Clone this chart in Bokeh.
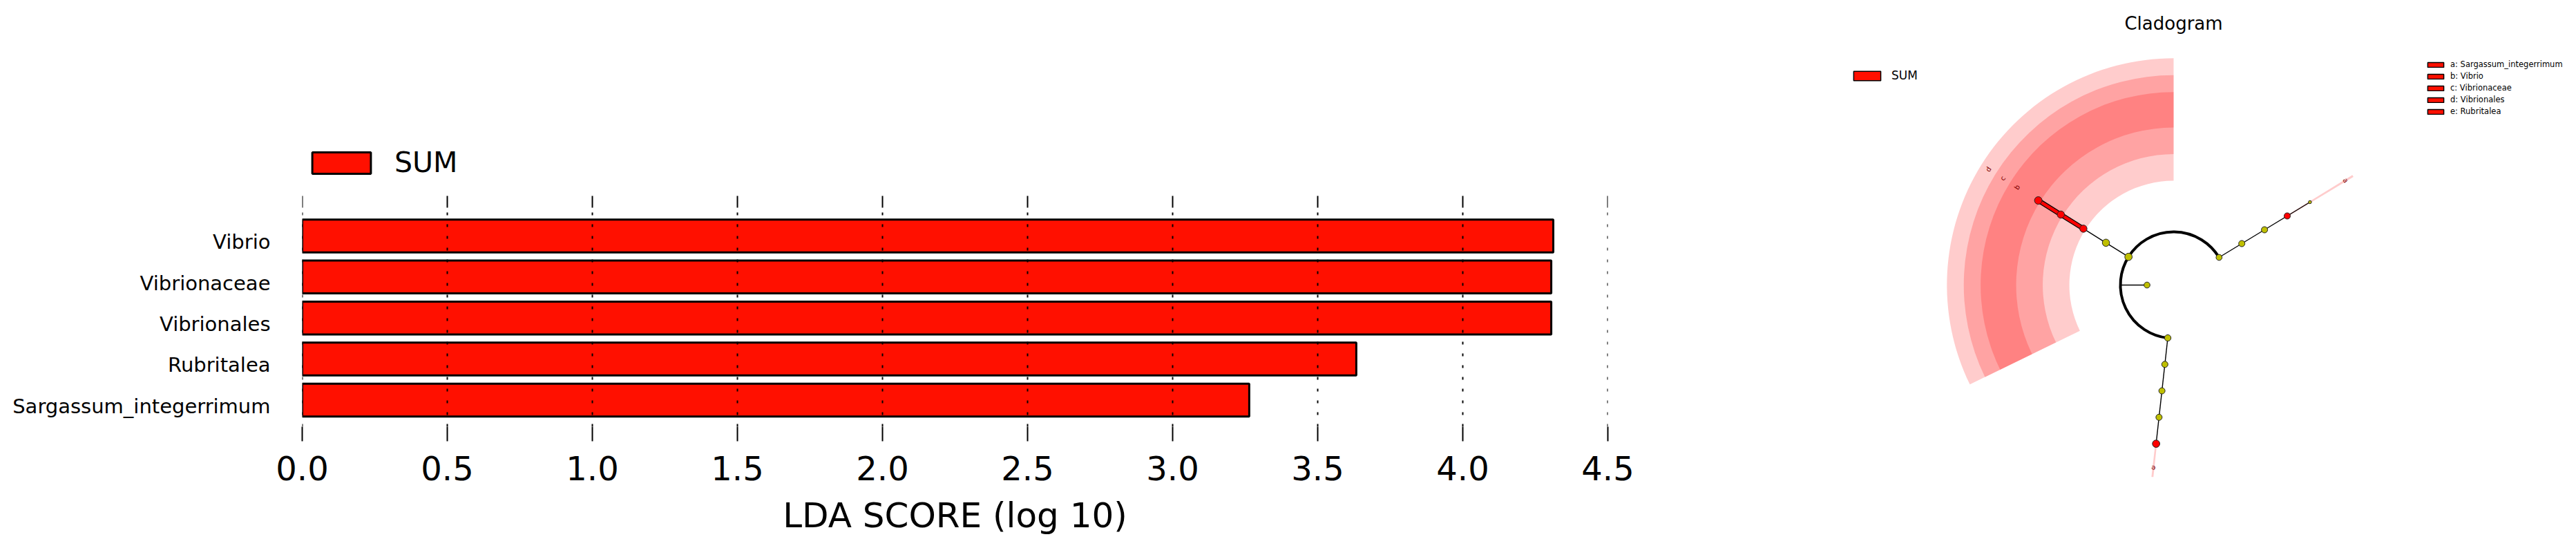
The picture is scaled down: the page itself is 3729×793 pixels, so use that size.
import numpy as np
from bokeh.plotting import figure
from bokeh.models import (Range1d, FixedTicker, LinearAxis, Legend, LegendItem, Label,
                          PrintfTickFormatter)
from bokeh.layouts import row
from bokeh.embed import file_html
from bokeh.resources import INLINE
from bokeh.core.properties import value

FONT = "DejaVu Sans"
RED = "#ff1000"
YELLOW = "#bfbf00"

# ---------------- LDA bar chart data ----------------
features = ["Sargassum_integerrimum", "Rubritalea", "Vibrionales", "Vibrionaceae", "Vibrio"]
lda_scores = [3.264, 3.633, 4.305, 4.305, 4.312]
class_name = "SUM"
lda_ticks = [0.0, 0.5, 1.0, 1.5, 2.0, 2.5, 3.0, 3.5, 4.0, 4.5]

# ---------------- Cladogram data ----------------
# tree nodes: ring level, angle (deg), biomarker flag, node size (abundance)
node_level = [1, 2, 3, 4, 5, 6, 2, 3, 4, 5, 6, 2, 3, 4, 5, 6]
node_angle = [180.0,
              148.0, 148.0, 148.0, 148.0, 148.0,
              31.3, 31.3, 31.3, 31.3, 31.3,
              263.7, 263.7, 263.7, 263.7, 263.7]
node_biomarker = [False,
                  False, False, True, True, True,
                  False, False, False, True, False,
                  False, False, False, False, True]
node_size = [8.7, 10.7, 10.5, 10.5, 10.5, 11.0, 8.7, 9.0, 9.0, 9.0, 4.5, 9.3, 9.0, 9.0, 9.0, 10.7]
edge_parent = [1, 2, 3, 4, 6, 7, 8, 9, 11, 12, 13, 14]
edge_child = [2, 3, 4, 5, 7, 8, 9, 10, 12, 13, 14, 15]
phylum_nodes = [6, 1, 11]  # nodes joined by the level-2 arc

# highlighted clades
hl_letter = ["a", "b", "c", "d", "e"]
hl_name = ["Sargassum_integerrimum", "Vibrio", "Vibrionaceae", "Vibrionales", "Rubritalea"]
hl_level = [5, 6, 5, 4, 6]
hl_angle_from = [31.0, 90.0, 90.0, 90.0, 263.4]
hl_angle_to = [31.6, 206.0, 206.0, 206.0, 264.0]

# ======================= LEFT: LDA bars =======================
BAR_PX = 59.375           # pixels per category
FRAME_H = 617
y0 = 0.351
y1 = y0 + FRAME_H / BAR_PX
grid_top = y0 + 317 / BAR_PX      # upper end of the dashed guide lines
tick_top = grid_top + 17 / BAR_PX  # upper end of the top tick marks

ypos = list(range(1, len(features) + 1))
p1 = figure(frame_width=1890, frame_height=FRAME_H,
            min_border_left=437, min_border_right=273, min_border_top=0, min_border_bottom=176,
            x_range=Range1d(0, 4.5), y_range=Range1d(y0, y1),
            output_backend="svg", toolbar_location=None, x_axis_location=None, y_axis_location=None)
p1.frame_align = False
p1.title.visible = False
p1.outline_line_color = None
p1.grid.visible = False

bars = p1.hbar(y=ypos, right=lda_scores, left=0, height=0.8,
               fill_color=RED, line_color="black", line_width=3)

n = len(lda_ticks)
p1.segment(x0=lda_ticks, x1=lda_ticks, y0=[y0] * n, y1=[grid_top] * n,
           line_color="black", line_width=2, line_dash="4 13")
p1.segment(x0=lda_ticks, x1=lda_ticks, y0=[grid_top] * n, y1=[tick_top] * n,
           line_color="black", line_width=2)

bottom = LinearAxis(ticker=FixedTicker(ticks=lda_ticks), axis_label="LDA SCORE (log 10)",
                    formatter=PrintfTickFormatter(format="%.1f"))
bottom.axis_line_color = None
bottom.major_tick_out = 21
bottom.major_tick_in = 0
bottom.major_tick_line_width = 2
bottom.minor_tick_line_color = None
bottom.major_label_text_font = FONT
bottom.major_label_text_font_size = "48px"
bottom.major_label_text_color = "black"
bottom.major_label_standoff = 21
bottom.axis_label_text_font = FONT
bottom.axis_label_text_font_size = "50px"
bottom.axis_label_text_font_style = "normal"
bottom.axis_label_text_color = "black"
bottom.axis_label_standoff = 19
p1.add_layout(bottom, "below")

label_shift = 0.15
ytick_pos = [y - label_shift for y in ypos]
left = LinearAxis(ticker=FixedTicker(ticks=ytick_pos))
left.major_label_overrides = {t: f for t, f in zip(ytick_pos, features)}
left.axis_line_color = None
left.major_tick_line_color = None
left.minor_tick_line_color = None
left.major_tick_out = 0
left.major_tick_in = 0
left.major_label_standoff = 46
left.major_label_text_font = FONT
left.major_label_text_font_size = "29px"
left.major_label_text_color = "black"
p1.add_layout(left, "left")

leg1 = Legend(items=[LegendItem(label=class_name, renderers=[bars])],
              location=(4, 358), orientation="vertical",
              glyph_width=106, glyph_height=39, label_standoff=24,
              label_text_font=FONT, label_text_font_size="41px", label_text_color="black",
              padding=0, margin=0, spacing=0,
              border_line_color=None, background_fill_alpha=0)
p1.add_layout(leg1, "center")

# ======================= RIGHT: cladogram =======================
PX = 38.5  # pixels per ring level
W2, H2 = 1129, 793
cx_page, cy_page = 546, 412  # root position inside the figure (px)
p2 = figure(width=W2, height=H2, min_border=0,
            x_range=Range1d(-cx_page / PX, (W2 - cx_page) / PX),
            y_range=Range1d(-(H2 - cy_page) / PX, cy_page / PX),
            output_backend="svg", toolbar_location=None)
p2.frame_align = False
p2.title.visible = False
p2.axis.visible = False
p2.grid.visible = False
p2.outline_line_color = None

lev = np.array(node_level, dtype=float)
ang = np.radians(node_angle)
nx = lev * np.cos(ang)
ny = lev * np.sin(ang)

# clade highlight wedges
hl_lev = np.array(hl_level, dtype=float)
inner = hl_lev - 0.08
outer = 11.06 - 0.634 * hl_lev
p2.annular_wedge(x=0, y=0, inner_radius=inner, outer_radius=outer,
                 start_angle=np.radians(hl_angle_from), end_angle=np.radians(hl_angle_to),
                 fill_color="red", fill_alpha=0.2, line_color=None)

# arc joining phyla
a_start = np.radians(node_angle[phylum_nodes[0]])
a_end = np.radians(node_angle[phylum_nodes[2]])
p2.arc(x=0, y=0, radius=2, start_angle=a_start, end_angle=a_end,
       direction="anticlock", line_color="black", line_width=4)

# root link to arc
p2.segment(x0=[nx[0]], y0=[ny[0]], x1=[2 * np.cos(ang[0])], y1=[2 * np.sin(ang[0])],
           line_color="black", line_width=1.5)

# branches
ep = np.array(edge_parent)
ec = np.array(edge_child)
bm = np.array(node_biomarker)
red_edge = bm[ep] & bm[ec]
p2.segment(x0=nx[ep[~red_edge]], y0=ny[ep[~red_edge]], x1=nx[ec[~red_edge]], y1=ny[ec[~red_edge]],
           line_color="black", line_width=1.4)
p2.segment(x0=nx[ep[red_edge]], y0=ny[ep[red_edge]], x1=nx[ec[red_edge]], y1=ny[ec[red_edge]],
           line_color="black", line_width=7)
p2.segment(x0=nx[ep[red_edge]], y0=ny[ep[red_edge]], x1=nx[ec[red_edge]], y1=ny[ec[red_edge]],
           line_color="red", line_width=4.5)

# nodes
colors = ["red" if b else YELLOW for b in node_biomarker]
p2.scatter(x=nx, y=ny, size=node_size, fill_color=colors, line_color="#222222", line_width=1)

# clade letters
hl_mid = np.radians((np.array(hl_angle_from) + np.array(hl_angle_to)) / 2)
lab_r = outer - 0.315
p2.text(x=lab_r * np.cos(hl_mid), y=lab_r * np.sin(hl_mid), text=hl_letter,
        angle=hl_mid - np.pi / 2, text_align="center", text_baseline="middle",
        text_font=value(FONT), text_font_size="10px", text_color="#800000")

# title
p2.add_layout(Label(x=cx_page, y=H2 - 33, x_units="screen", y_units="screen", text="Cladogram",
                    text_align="center", text_baseline="middle", text_font=FONT,
                    text_font_size="26px", text_color="black"))

# hidden patch renderer used only for the legend swatches
patch = p2.quad(left=inner, right=outer, top=outer, bottom=inner,
                fill_color=RED, line_color="black", line_width=1.5, visible=False)
leg2 = Legend(items=[LegendItem(label=class_name, renderers=[patch])],
              location=(78, 674), glyph_width=49, glyph_height=17, label_standoff=11,
              label_text_font=FONT, label_text_font_size="17px", label_text_color="black",
              padding=0, margin=0, spacing=0,
              border_line_color=None, background_fill_alpha=0)
p2.add_layout(leg2, "center")

leg3 = Legend(items=[LegendItem(label=f"{l}: {n}", renderers=[patch]) for l, n in zip(hl_letter, hl_name)],
              location=(911, 625), glyph_width=29, glyph_height=9, label_standoff=7,
              label_text_font=FONT, label_text_font_size="11.5px", label_text_color="black",
              label_height=14,
              padding=0, margin=0, spacing=3,
              border_line_color=None, background_fill_alpha=0)
p2.add_layout(leg3, "center")

layout = row(p1, p2)
open("out.html", "w").write(file_html(layout, INLINE))
